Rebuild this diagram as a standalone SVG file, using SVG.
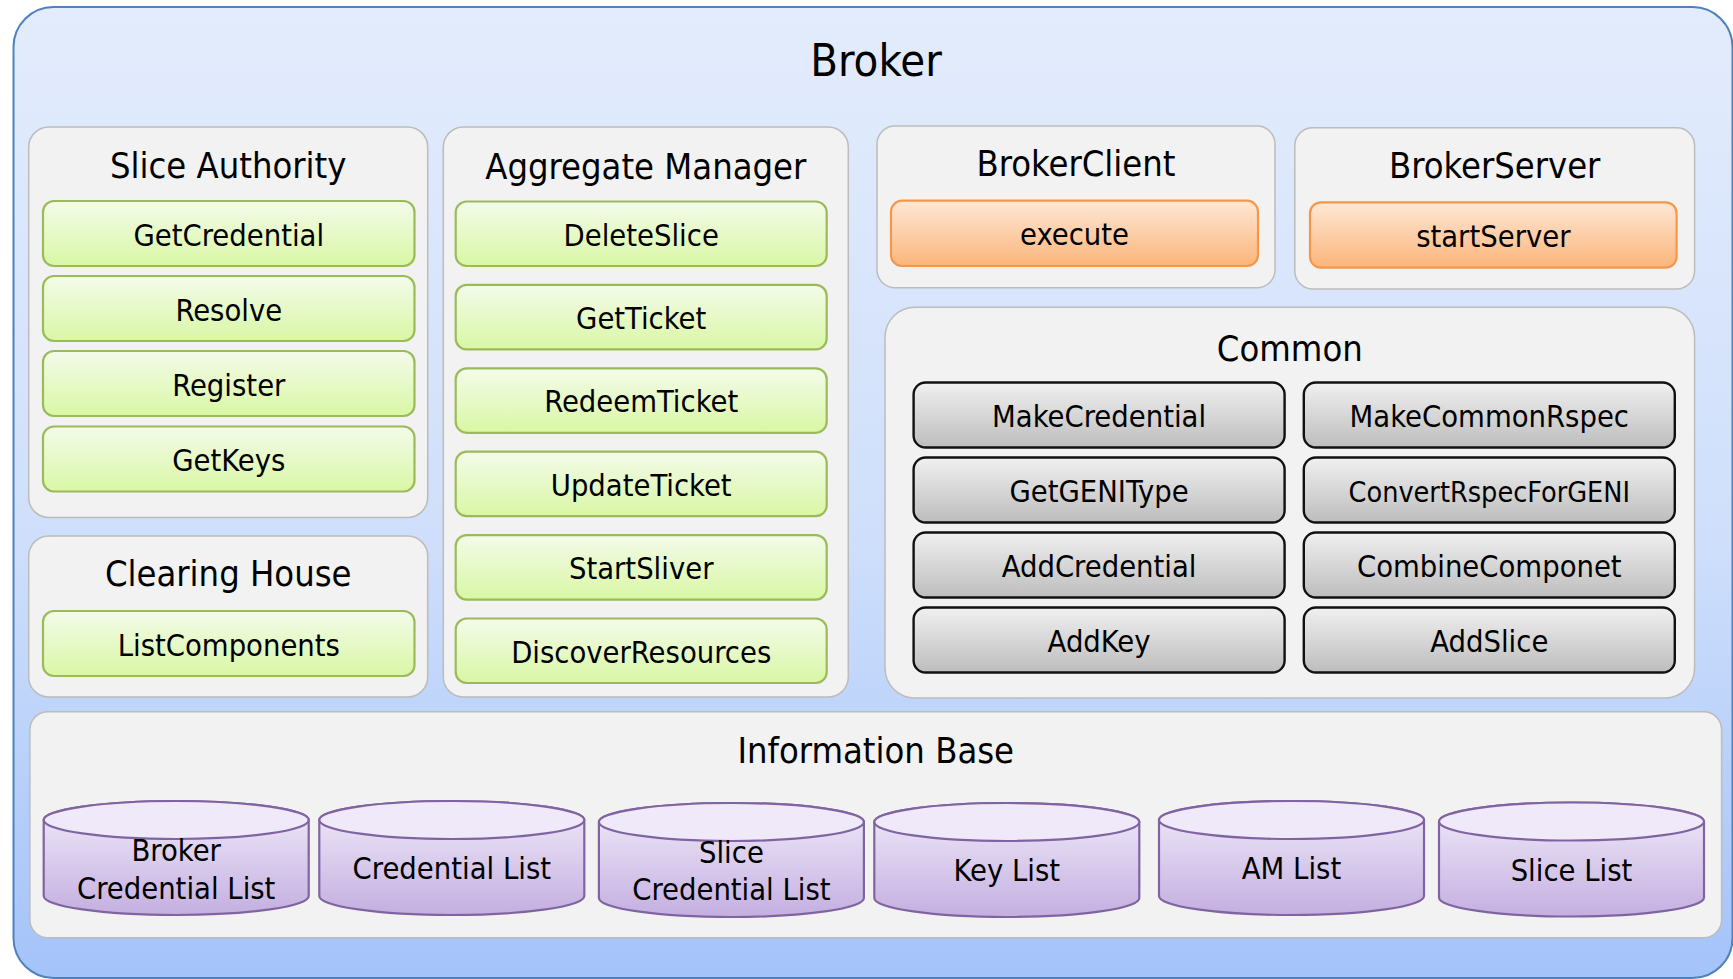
<svg xmlns="http://www.w3.org/2000/svg" width="1733" height="979" viewBox="0 0 1733 979">
  <defs>
    <linearGradient id="gFrame" x1="0" y1="0" x2="0" y2="1">
      <stop offset="0" stop-color="#e3ecfc"/>
      <stop offset="0.55" stop-color="#cfdffb"/>
      <stop offset="1" stop-color="#a4c3f9"/>
    </linearGradient>
    <linearGradient id="gGreen" x1="0" y1="0" x2="0" y2="1">
      <stop offset="0" stop-color="#f4fbea"/>
      <stop offset="1" stop-color="#d9f7a4"/>
    </linearGradient>
    <linearGradient id="gOrange" x1="0" y1="0" x2="0" y2="1">
      <stop offset="0" stop-color="#fee8d6"/>
      <stop offset="1" stop-color="#fcb57a"/>
    </linearGradient>
    <linearGradient id="gGray" x1="0" y1="0" x2="0" y2="1">
      <stop offset="0" stop-color="#f0f0f0"/>
      <stop offset="1" stop-color="#bdbdbd"/>
    </linearGradient>
    <linearGradient id="gDb" x1="0" y1="0" x2="0" y2="1">
      <stop offset="0" stop-color="#f1ecfa"/>
      <stop offset="1" stop-color="#c4afe0"/>
    </linearGradient>
    <style>
      text { font-family: "DejaVu Sans Condensed", "DejaVu Sans", sans-serif; font-stretch: condensed; fill: #000; text-anchor: middle; }
      .h0 { font-size: 45px; }
      .h1 { font-size: 36px; }
      .t { font-size: 30.6px; }
      .ts { font-size: 28.5px; }
      .panel { fill: #f2f2f2; stroke: #bcbcbc; stroke-width: 1.5; }
      .green { fill: url(#gGreen); stroke: #9bbb59; stroke-width: 2.2; }
      .orange { fill: url(#gOrange); stroke: #f79646; stroke-width: 2.2; }
      .gray { fill: url(#gGray); stroke: #111; stroke-width: 2.4; }
      .db { fill: url(#gDb); stroke: #8064a2; stroke-width: 2.2; }
      .dbtop { fill: #efe9f9; stroke: #8064a2; stroke-width: 2.2; }
    </style>
  </defs>

  <!-- outer container -->
  <g id="broker">
    <rect x="13.5" y="7" width="1719" height="971" rx="40" fill="url(#gFrame)" stroke="#4f81bd" stroke-width="2"/>
    <text class="h0" x="876" y="76">Broker</text>
  </g>

  <!-- Slice Authority -->
  <g id="slice-authority">
    <rect class="panel" x="28.7" y="127" width="399" height="390.5" rx="20"/>
    <text class="h1" x="228.2" y="177.7">Slice Authority</text>
    <rect class="green" x="43" y="201" width="371.5" height="65" rx="11"/>
    <text class="t" x="228.8" y="245.5">GetCredential</text>
    <rect class="green" x="43" y="276" width="371.5" height="65" rx="11"/>
    <text class="t" x="228.8" y="320.5">Resolve</text>
    <rect class="green" x="43" y="351" width="371.5" height="65" rx="11"/>
    <text class="t" x="228.8" y="395.5">Register</text>
    <rect class="green" x="43" y="426.5" width="371.5" height="65" rx="11"/>
    <text class="t" x="228.8" y="471">GetKeys</text>
  </g>

  <!-- Clearing House -->
  <g id="clearing-house">
    <rect class="panel" x="28.7" y="536" width="399" height="161" rx="20"/>
    <text class="h1" x="228.2" y="586">Clearing House</text>
    <rect class="green" x="43" y="611" width="371.5" height="65" rx="11"/>
    <text class="t" x="228.8" y="655.5">ListComponents</text>
  </g>

  <!-- Aggregate Manager -->
  <g id="aggregate-manager">
    <rect class="panel" x="443.3" y="127" width="405" height="570" rx="20"/>
    <text class="h1" x="645.8" y="178.5">Aggregate Manager</text>
    <rect class="green" x="455.7" y="201.5" width="371" height="64.5" rx="11"/>
    <text class="t" x="641.2" y="245.5">DeleteSlice</text>
    <rect class="green" x="455.7" y="284.9" width="371" height="64.5" rx="11"/>
    <text class="t" x="641.2" y="329">GetTicket</text>
    <rect class="green" x="455.7" y="368.3" width="371" height="64.5" rx="11"/>
    <text class="t" x="641.2" y="412.4">RedeemTicket</text>
    <rect class="green" x="455.7" y="451.7" width="371" height="64.5" rx="11"/>
    <text class="t" x="641.2" y="495.8">UpdateTicket</text>
    <rect class="green" x="455.7" y="535.1" width="371" height="64.5" rx="11"/>
    <text class="t" x="641.2" y="579.2">StartSliver</text>
    <rect class="green" x="455.7" y="618.5" width="371" height="64.5" rx="11"/>
    <text class="t" x="641.2" y="662.6">DiscoverResources</text>
  </g>

  <!-- BrokerClient -->
  <g id="broker-client">
    <rect class="panel" x="877" y="126" width="398" height="161.7" rx="18"/>
    <text class="h1" x="1076" y="176">BrokerClient</text>
    <rect class="orange" x="891" y="200.7" width="367" height="65.3" rx="11"/>
    <text class="t" x="1074.5" y="245">execute</text>
  </g>

  <!-- BrokerServer -->
  <g id="broker-server">
    <rect class="panel" x="1294.8" y="127.7" width="399.8" height="161.3" rx="18"/>
    <text class="h1" x="1494.7" y="177.7">BrokerServer</text>
    <rect class="orange" x="1310" y="202.3" width="366.6" height="65.4" rx="11"/>
    <text class="t" x="1493.3" y="247">startServer</text>
  </g>

  <!-- Common -->
  <g id="common">
    <rect class="panel" x="885" y="307.3" width="809.6" height="390.7" rx="30"/>
    <text class="h1" x="1289.8" y="361">Common</text>
    <rect class="gray" x="913.6" y="382.5" width="371" height="65" rx="12"/>
    <text class="t" x="1099.1" y="427.3">MakeCredential</text>
    <rect class="gray" x="1303.8" y="382.5" width="371" height="65" rx="12"/>
    <text class="t" x="1489.3" y="427.3">MakeCommonRspec</text>
    <rect class="gray" x="913.6" y="457.5" width="371" height="65" rx="12"/>
    <text class="t" x="1099.1" y="502.3">GetGENIType</text>
    <rect class="gray" x="1303.8" y="457.5" width="371" height="65" rx="12"/>
    <text class="ts" x="1489.3" y="501.5">ConvertRspecForGENI</text>
    <rect class="gray" x="913.6" y="532.5" width="371" height="65" rx="12"/>
    <text class="t" x="1099.1" y="577.3">AddCredential</text>
    <rect class="gray" x="1303.8" y="532.5" width="371" height="65" rx="12"/>
    <text class="t" x="1489.3" y="577.3">CombineComponet</text>
    <rect class="gray" x="913.6" y="607.5" width="371" height="65" rx="12"/>
    <text class="t" x="1099.1" y="652.3">AddKey</text>
    <rect class="gray" x="1303.8" y="607.5" width="371" height="65" rx="12"/>
    <text class="t" x="1489.3" y="652.3">AddSlice</text>
  </g>

  <!-- Information Base with its data stores -->
  <g id="information-base">
    <rect class="panel" x="29.9" y="711.7" width="1691.7" height="226" rx="18"/>
    <text class="h1" x="875.8" y="762.7">Information Base</text>
  </g>

  <g id="db-broker-credential-list">
    <path class="db" d="M43.7,820 L43.7,896 A132.5,19 0 0 0 308.7,896 L308.7,820 A132.5,19 0 0 0 43.7,820 Z"/>
    <ellipse class="dbtop" cx="176.2" cy="820" rx="132.5" ry="19"/>
    <text class="t" x="176.2" y="861">Broker</text>
    <text class="t" x="176.2" y="899">Credential List</text>
  </g>

  <g id="db-credential-list">
    <path class="db" d="M319.3,820 L319.3,896 A132.5,19 0 0 0 584.3,896 L584.3,820 A132.5,19 0 0 0 319.3,820 Z"/>
    <ellipse class="dbtop" cx="451.8" cy="820" rx="132.5" ry="19"/>
    <text class="t" x="451.8" y="879">Credential List</text>
  </g>

  <g id="db-slice-credential-list">
    <path class="db" d="M598.9,822 L598.9,898 A132.5,19 0 0 0 863.9,898 L863.9,822 A132.5,19 0 0 0 598.9,822 Z"/>
    <ellipse class="dbtop" cx="731.4" cy="822" rx="132.5" ry="19"/>
    <text class="t" x="731.4" y="862.7">Slice</text>
    <text class="t" x="731.4" y="900">Credential List</text>
  </g>

  <g id="db-key-list">
    <path class="db" d="M874.3,822 L874.3,898 A132.5,19 0 0 0 1139.3,898 L1139.3,822 A132.5,19 0 0 0 874.3,822 Z"/>
    <ellipse class="dbtop" cx="1006.8" cy="822" rx="132.5" ry="19"/>
    <text class="t" x="1006.8" y="881">Key List</text>
  </g>

  <g id="db-am-list">
    <path class="db" d="M1159,820 L1159,896 A132.5,19 0 0 0 1424,896 L1424,820 A132.5,19 0 0 0 1159,820 Z"/>
    <ellipse class="dbtop" cx="1291.5" cy="820" rx="132.5" ry="19"/>
    <text class="t" x="1291.5" y="879">AM List</text>
  </g>

  <g id="db-slice-list">
    <path class="db" d="M1439,821.5 L1439,897.5 A132.5,19 0 0 0 1704,897.5 L1704,821.5 A132.5,19 0 0 0 1439,821.5 Z"/>
    <ellipse class="dbtop" cx="1571.5" cy="821.5" rx="132.5" ry="19"/>
    <text class="t" x="1571.5" y="881">Slice List</text>
  </g>
</svg>
